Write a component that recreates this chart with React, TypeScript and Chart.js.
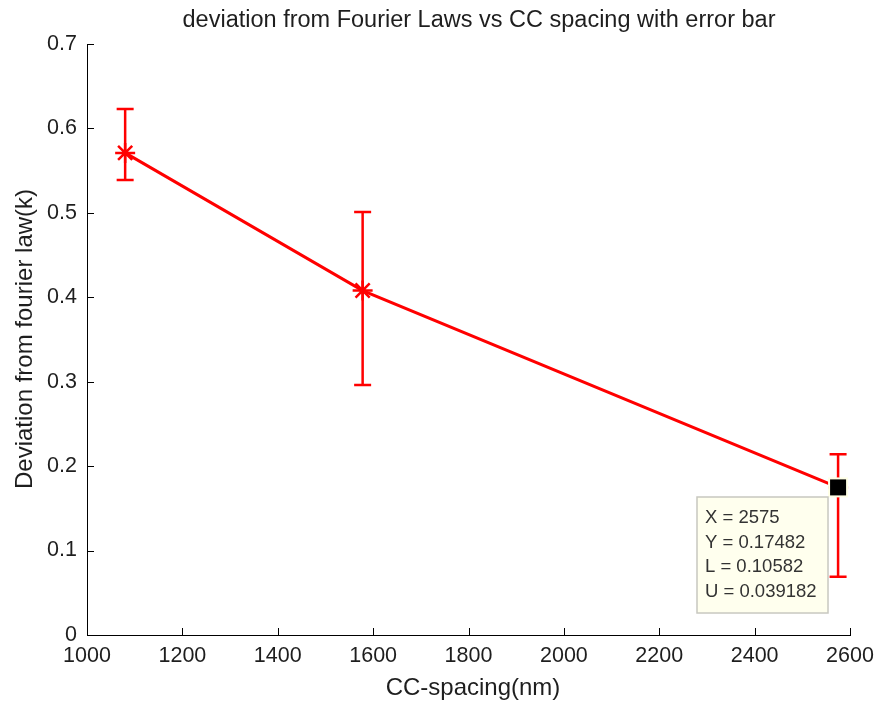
import { useEffect, useRef } from 'react';
import { Chart, registerables } from 'chart.js';

Chart.register(...registerables);

// CC spacing (nm) and the measured deviation with asymmetric error bars
const spacingNm = [1080, 1578, 2575];
const deviation = [0.571, 0.408, 0.17482];
const lowerErr = [0.032, 0.112, 0.10582];
const upperErr = [0.052, 0.093, 0.039182];

// index of the point carrying the data tip
const tipIndex = 2;

const titleText = 'deviation from Fourier Laws vs CC spacing with error bar';
const xTitle = 'CC-spacing(nm)';
const yTitle = 'Deviation from fourier law(k)';

const FONT = '"Liberation Sans", Arial, Helvetica, sans-serif';
const RED = '#ff0000';
const INK = '#1e1e1e';

const errorBarPlugin = {
  id: 'errorBars',
  beforeDatasetsDraw(chart: any) {
    const { ctx, scales } = chart;
    const xs = scales.x;
    const ys = scales.y;
    ctx.save();
    ctx.strokeStyle = RED;
    ctx.lineWidth = 2.5;
    const half = 8.5;
    for (let i = 0; i < spacingNm.length; i++) {
      const px = xs.getPixelForValue(spacingNm[i]);
      const top = ys.getPixelForValue(deviation[i] + upperErr[i]);
      const bot = ys.getPixelForValue(deviation[i] - lowerErr[i]);
      ctx.beginPath();
      ctx.moveTo(px, top);
      ctx.lineTo(px, bot);
      ctx.moveTo(px - half, top);
      ctx.lineTo(px + half, top);
      ctx.moveTo(px - half, bot);
      ctx.lineTo(px + half, bot);
      ctx.stroke();
    }
    ctx.restore();
  },
};

const axisDecorPlugin = {
  id: 'axisDecor',
  beforeDatasetsDraw(chart: any) {
    const { ctx, scales, chartArea } = chart;
    const tick = 7;
    ctx.save();
    ctx.strokeStyle = '#000';
    ctx.lineWidth = 1;
    ctx.beginPath();
    scales.y.ticks.forEach((t: any) => {
      const py = Math.round(scales.y.getPixelForValue(t.value)) + 0.5;
      ctx.moveTo(chartArea.left, py);
      ctx.lineTo(chartArea.left + tick, py);
    });
    scales.x.ticks.forEach((t: any) => {
      const px = Math.round(scales.x.getPixelForValue(t.value)) + 0.5;
      ctx.moveTo(px, chartArea.bottom);
      ctx.lineTo(px, chartArea.bottom - tick);
    });
    ctx.stroke();
    ctx.restore();
  },
  afterDraw(chart: any) {
    const { ctx } = chart;
    ctx.save();
    ctx.fillStyle = INK;
    ctx.textAlign = 'center';
    ctx.textBaseline = 'alphabetic';
    ctx.font = `23.5px ${FONT}`;
    ctx.fillText(titleText, 479, 27);
    ctx.font = `24px ${FONT}`;
    ctx.fillText(xTitle, 473, 695);
    ctx.translate(32, 339);
    ctx.rotate(-Math.PI / 2);
    ctx.fillText(yTitle, 0, 0);
    ctx.restore();
  },
};

const dataTipPlugin = {
  id: 'dataTip',
  afterDatasetsDraw(chart: any) {
    const { ctx, scales } = chart;
    const px = scales.x.getPixelForValue(spacingNm[tipIndex]);
    const py = scales.y.getPixelForValue(deviation[tipIndex]);
    ctx.save();
    // marker highlight
    ctx.fillStyle = '#ffffe6';
    ctx.fillRect(px - 10, py - 10, 20, 20);
    ctx.fillStyle = '#000';
    ctx.fillRect(px - 8, py - 8, 16, 16);
    // label box
    const bx = 697;
    const by = 497;
    const bw = 131;
    const bh = 116;
    ctx.fillStyle = '#ffffee';
    ctx.fillRect(bx, by, bw, bh);
    ctx.strokeStyle = '#c8c8c0';
    ctx.lineWidth = 1.5;
    ctx.strokeRect(bx, by, bw, bh);
    const lines = [
      `X = ${spacingNm[tipIndex]}`,
      `Y = ${deviation[tipIndex]}`,
      `L = ${lowerErr[tipIndex]}`,
      `U = ${upperErr[tipIndex]}`,
    ];
    ctx.fillStyle = '#333';
    ctx.font = `18.5px ${FONT}`;
    ctx.textAlign = 'left';
    ctx.textBaseline = 'middle';
    lines.forEach((s, i) => ctx.fillText(s, bx + 8, by + 21 + i * 24.7));
    ctx.restore();
  },
};

export default function App() {
  const canvasRef = useRef<HTMLCanvasElement | null>(null);

  useEffect(() => {
    const canvas = canvasRef.current;
    if (!canvas) return;
    const chart = new Chart(canvas, {
      type: 'line',
      data: {
        datasets: [
          {
            data: spacingNm.map((x, i) => ({ x, y: deviation[i] })),
            borderColor: RED,
            borderWidth: 3,
            backgroundColor: RED,
            pointStyle: 'star',
            pointRadius: 10,
            pointBorderWidth: 2.5,
            pointBorderColor: RED,
            tension: 0,
            fill: false,
          },
        ],
      },
      options: {
        responsive: false,
        animation: false,
        devicePixelRatio: 1,
        layout: { padding: { top: 44, right: 26, left: 0, bottom: 0 } },
        plugins: {
          legend: { display: false },
          tooltip: { enabled: false },
          title: { display: false },
        },
        events: [],
        scales: {
          x: {
            type: 'linear',
            min: 1000,
            max: 2600,
            ticks: {
              stepSize: 200,
              padding: 8,
              color: INK,
              font: { family: FONT, size: 21.5 },
              maxRotation: 0,
              callback: (v: any) => String(v),
            },
            grid: { display: false, drawTicks: false },
            border: { display: true, color: '#000', width: 1 },
            afterFit: (s: any) => {
              s.height = 67;
              s.paddingLeft = 0;
              s.paddingRight = 0;
            },
          },
          y: {
            type: 'linear',
            min: 0,
            max: 0.7,
            ticks: {
              stepSize: 0.1,
              padding: 10,
              color: INK,
              font: { family: FONT, size: 21.5 },
              callback: (v: any) => String(Math.round(Number(v) * 10) / 10),
            },
            grid: { display: false, drawTicks: false },
            border: { display: true, color: '#000', width: 1 },
            afterFit: (s: any) => {
              s.width = 87;
              s.paddingTop = 0;
              s.paddingBottom = 0;
            },
          },
        },
      },
      plugins: [errorBarPlugin, axisDecorPlugin, dataTipPlugin],
    });
    return () => chart.destroy();
  }, []);

  return (
    <div style={{ position: 'fixed', left: 0, top: 0, width: 876, height: 702, background: '#fff' }}>
      <canvas ref={canvasRef} width={876} height={702} style={{ display: 'block' }} />
    </div>
  );
}
